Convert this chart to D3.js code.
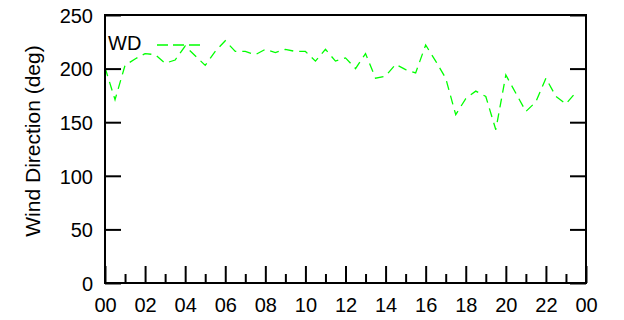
<!DOCTYPE html>
<html>
<head>
<meta charset="utf-8">
<script src="https://cdn.jsdelivr.net/npm/d3@7"></script>
<style>
  html, body { margin: 0; padding: 0; background: #fff; }
  svg { display: block; }
  text { font-family: "Liberation Sans", Arial, sans-serif; fill: #000; }
</style>
</head>
<body>
<svg id="chart" width="624" height="320"></svg>
<script>
// Half-hourly wind direction readings over one day
const hours = [0, 0.5, 1, 1.5, 2, 2.5, 3, 3.5, 4, 4.5, 5, 5.5,
               6, 6.5, 7, 7.5, 8, 8.5, 9, 9.5, 10, 10.5, 11, 11.5,
               12, 12.5, 13, 13.5, 14, 14.5, 15, 15.5, 16, 16.5, 17, 17.5,
               18, 18.5, 19, 19.5, 20, 20.5, 21, 21.5, 22, 22.5, 23, 23.5];
const windDir = [201, 171, 203, 209, 214, 213, 205, 208, 221, 212, 203, 216,
                 226, 216, 216, 213, 218, 215, 218, 216, 216, 207, 218, 207,
                 210, 200, 214, 191, 193, 204, 199, 196, 222, 207, 191, 157,
                 172, 179, 174, 143, 194, 177, 160, 169, 191, 174, 167, 178];
const seriesName = "WD";
const yTicks = [0, 50, 100, 150, 200, 250];
const xMajorTicks = [0, 2, 4, 6, 8, 10, 12, 14, 16, 18, 20, 22, 24];
const xMinorTicks = [1, 3, 5, 7, 9, 11, 13, 15, 17, 19, 21, 23];
const xTickLabels = ["00", "02", "04", "06", "08", "10", "12", "14", "16", "18", "20", "22", "00"];
const yLabel = "Wind Direction (deg)";

const svg = d3.select("#chart");
const plotL = 105, plotR = 586, plotT = 15, plotB = 283;

const x = d3.scaleLinear().domain([0, 24]).range([plotL, plotR]);
const y = d3.scaleLinear().domain([0, 250]).range([plotB, plotT]);

// Data line
const line = d3.line().x((d, i) => x(hours[i])).y(d => y(d));
svg.append("path")
  .datum(windDir)
  .attr("d", line)
  .attr("fill", "none")
  .attr("stroke", "#00ff00")
  .attr("stroke-width", 1.3)
  .attr("stroke-dasharray", "9,6");

// Frame
svg.append("rect")
  .attr("x", plotL).attr("y", plotT)
  .attr("width", plotR - plotL).attr("height", plotB - plotT)
  .attr("fill", "none").attr("stroke", "#000").attr("stroke-width", 2);

// Left axis: inward ticks + labels
const yAxisL = d3.axisLeft(y).tickValues(yTicks).tickSize(-16).tickPadding(12);
const gL = svg.append("g").attr("transform", `translate(${plotL},0)`).call(yAxisL);
gL.select(".domain").remove();
gL.selectAll(".tick line").attr("stroke", "#000").attr("stroke-width", 2);
gL.selectAll(".tick text").attr("font-size", 20).attr("dy", "0.36em")
  .attr("font-family", '"Liberation Sans", Arial, sans-serif');

// Right axis: inward ticks only
const yAxisR = d3.axisRight(y).tickValues(yTicks).tickSize(-16).tickFormat("");
const gR = svg.append("g").attr("transform", `translate(${plotR},0)`).call(yAxisR);
gR.select(".domain").remove();
gR.selectAll(".tick line").attr("stroke", "#000").attr("stroke-width", 2);

// Bottom axis: major ticks with labels, minor ticks between
const xAxis = d3.axisBottom(x).tickValues(xMajorTicks).tickSize(-17).tickPadding(15)
  .tickFormat((d, i) => xTickLabels[i]);
const gB = svg.append("g").attr("transform", `translate(0,${plotB})`).call(xAxis);
gB.select(".domain").remove();
gB.selectAll(".tick line").attr("stroke", "#000").attr("stroke-width", 2);
gB.selectAll(".tick text").attr("font-size", 20)
  .attr("font-family", '"Liberation Sans", Arial, sans-serif');

const xAxisMinor = d3.axisBottom(x).tickValues(xMinorTicks).tickSize(-9).tickFormat("");
const gBm = svg.append("g").attr("transform", `translate(0,${plotB})`).call(xAxisMinor);
gBm.select(".domain").remove();
gBm.selectAll(".tick line").attr("stroke", "#000").attr("stroke-width", 2);

// Y-axis title
svg.append("text")
  .attr("transform", `translate(40,${(plotT + plotB) / 2 - 8}) rotate(-90)`)
  .attr("text-anchor", "middle")
  .attr("font-size", 21)
  .text(yLabel);

// Legend
svg.append("text")
  .attr("x", 108).attr("y", 50)
  .attr("font-size", 20)
  .text(seriesName);
svg.append("line")
  .attr("x1", 157).attr("x2", 200)
  .attr("y1", y(222)).attr("y2", y(222))
  .attr("stroke", "#00ff00").attr("stroke-width", 1.3)
  .attr("stroke-dasharray", "11,5");
</script>
</body>
</html>
